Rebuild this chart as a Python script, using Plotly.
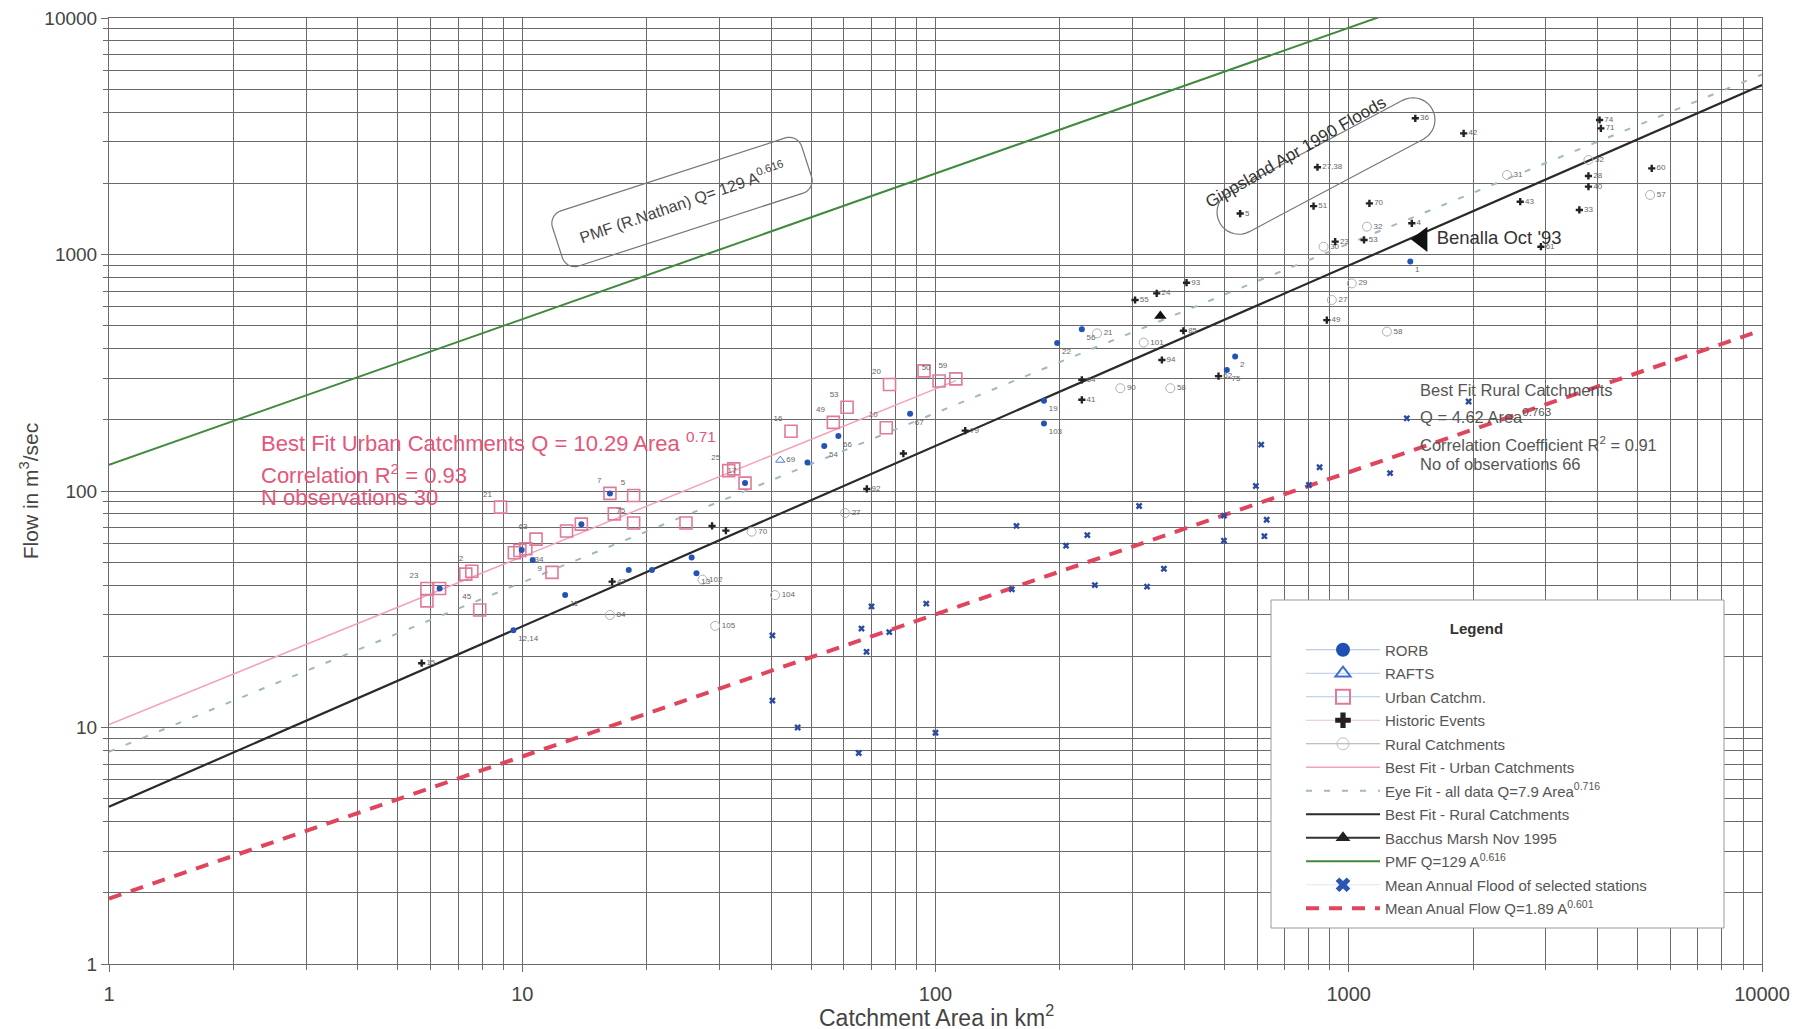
import numpy as np
import plotly.graph_objects as go

# ---------------- data ----------------
axis_ticks = [1, 10, 100, 1000, 10000]
axis_ticktext = ["1", "10", "100", "1000", "10000"]

# Urban catchments (open pink squares)
urban_area = [5.88, 5.88, 6.31, 7.3, 7.55, 7.89, 8.86, 9.57, 9.87, 10.2, 10.8, 11.8, 12.8, 13.9, 16.3,
              16.7, 18.6, 18.6, 24.9, 31.6, 32.5, 34.6, 44.7, 56.6, 61.1, 76, 77.4, 93.8, 102, 112]
urban_flow = [38.7, 34.3, 38.7, 44.5, 45.8, 31.4, 85.5, 54.8, 56, 57, 62.6, 45.3, 67.7, 72.4, 97.7,
              80, 95.7, 73.2, 73.2, 122, 124, 108, 179, 195, 226, 185, 282, 322, 292, 298]
urban_label = ["23", "", "", "", "2", "45", "21", "", "", "", "63", "34", "", "", "7",
               "", "5", "75", "", "25", "", "17", "16", "49", "53", "10", "20", "", "50", "59"]

# RORB (blue dots)
rorb_area = [6.31, 9.52, 9.97, 10.6, 12.7, 13.9, 16.3, 18.1, 20.6, 25.7, 26.4, 34.6, 49, 53.8, 58.2,
             86.8, 183, 183, 197, 226, 507, 531, 1409]
rorb_flow = [38.7, 25.8, 56.3, 51.1, 36.3, 72.4, 97.7, 46.3, 46.3, 52.4, 44.9, 108, 132, 155, 171,
             212, 241, 193, 422, 483, 325, 370, 933]
rorb_label = ["", "12,14", "", "9", "11", "", "", "", "", "", "13", "", "", "54", "66",
              "67", "19", "103", "22", "56", "75", "2", "1"]

# RAFTS (open blue triangle)
rafts_area = [42.1]
rafts_flow = [135]
rafts_label = ["69"]

# Historic events (black crosses)
hist_area = [5.71, 16.5, 28.8, 31.1, 68.2, 83.6, 118, 226, 226, 304, 343, 353, 398, 405, 484, 885,
             840, 822, 1122, 1449, 1897, 4045, 4075, 3802, 3802, 3614, 5410, 2600, 2917, 927, 1089,
             1421, 546]
hist_flow = [18.7, 41.4, 71.2, 68, 102, 144, 180, 295, 243, 642, 685, 358, 476, 760, 306, 528,
             2338, 1602, 1645, 3767, 3251, 3704, 3415, 2148, 1936, 1543, 2312, 1672, 1079, 1133, 1152,
             1355, 1490]
hist_label = ["15", "47", "", "", "92", "", "79", "64", "41", "55", "24", "94", "85", "93", "62", "49",
              "27,38", "51", "70", "36", "42", "74", "71", "28", "40", "33", "60", "43", "61", "23", "53",
              "4", "5"]

# Rural catchments (open grey circles)
rural_area = [16.3, 27.3, 29.3, 35.9, 40.9, 60.4, 246, 280, 319, 370, 869, 910, 1017, 1107, 1237,
              2415, 3802, 5360]
rural_flow = [29.9, 42.2, 26.9, 67.3, 36.3, 80.7, 464, 272, 424, 272, 1079, 642, 755, 1312, 472,
              2169, 2510, 1786]
rural_label = ["84", "102", "105", "70", "104", "27", "21", "90", "101", "58", "30", "27", "29", "32", "58",
               "31", "52", "57"]

# Mean annual flood of selected stations (blue crosses)
maf_area = [40.3, 40.3, 46.4, 65.2, 66.2, 68.1, 70, 77.3, 95, 100, 153, 157, 207, 233, 243, 311, 325,
            357, 499, 499, 596, 614, 633, 625, 801, 850, 1259, 1382, 1950, 10570]
maf_flow = [24.5, 13, 10, 7.8, 26.2, 20.9, 32.5, 25.3, 33.4, 9.5, 38.4, 71.2, 58.7, 65.1, 40, 86.4, 39.4,
            46.9, 78.7, 61.7, 105, 157, 75.6, 64.4, 106, 126, 119, 203, 239, 442]

# Single events
bacchus_area = [350]
bacchus_flow = [550]
benalla_area = [1503]
benalla_flow = [1159]
benalla_text = ["Benalla Oct '93"]

# Fitted / envelope lines (end points)
line_area = [1, 10000]
pmf_flow = [129, 37550]
rural_fit_flow = [4.62, 5208]
eye_fit_flow = [7.9, 5775]
mean_flow_line = [1.89, 479]
urban_fit_area = [1, 112]
urban_fit_flow = [10.29, 293]

# ---------------- layout geometry ----------------
W, H = 1800, 1029
PAGE_OFF = 8                       # default body margin of the html page
X0, X1, Y0, Y1 = 109, 1762, 18, 964  # wanted plot area on screen
PW, PH = X1 - X0, Y1 - Y0
ML, MT = X0 - PAGE_OFF, Y0 - PAGE_OFF
MR, MB = W - ML - PW, H - MT - PH
FONT = "Arial, Liberation Sans, sans-serif"


def paper(px, py):
    return (px - X0) / PW, (Y1 - py) / PH


def rounded_rect_path(cx, cy, length, width, angle_deg, radius):
    a, b, r = length / 2, width / 2, radius
    pts = []
    corners = [((a - r), (b - r), 0), (-(a - r), (b - r), 90), (-(a - r), -(b - r), 180), ((a - r), -(b - r), 270)]
    for sx, ty, start in corners:
        for phi in np.linspace(start, start + 90, 10):
            pts.append((sx + r * np.cos(np.radians(phi)), ty + r * np.sin(np.radians(phi))))
    th = np.radians(angle_deg)
    u = np.array([np.cos(th), -np.sin(th)])
    v = np.array([np.sin(th), np.cos(th)])
    out = []
    for s, t in pts:
        p = np.array([cx, cy]) + s * u + t * v
        out.append(paper(p[0], p[1]))
    return "M " + " L ".join(f"{x:.5f},{y:.5f}" for x, y in out) + " Z"


fig = go.Figure()

# ---------------- lines ----------------
fig.add_trace(go.Scatter(x=line_area, y=pmf_flow, mode="lines", showlegend=False,
                         line=dict(color="#3f8a3f", width=2)))
fig.add_trace(go.Scatter(x=line_area, y=eye_fit_flow, mode="lines", showlegend=False,
                         line=dict(color="#9fb8c4", width=2, dash="6px,12px")))
fig.add_trace(go.Scatter(x=urban_fit_area, y=urban_fit_flow, mode="lines", showlegend=False,
                         line=dict(color="#f2a3b6", width=1.5)))
fig.add_trace(go.Scatter(x=line_area, y=rural_fit_flow, mode="lines", showlegend=False,
                         line=dict(color="#2a2a2a", width=2.2)))
fig.add_trace(go.Scatter(x=line_area, y=mean_flow_line, mode="lines", showlegend=False,
                         line=dict(color="#e0455e", width=4, dash="13px,10px")))

lab_font = dict(size=8, color="#666", family=FONT)

# ---------------- points ----------------
fig.add_trace(go.Scatter(x=rural_area, y=rural_flow, mode="markers+text", text=rural_label,
                         textposition="middle right", textfont=lab_font, showlegend=False,
                         marker=dict(symbol="circle-open", size=9, color="#b0b0b0", line=dict(width=1))))
fig.add_trace(go.Scatter(x=urban_area, y=urban_flow, mode="markers+text", text=urban_label,
                         textposition="top left", textfont=lab_font, showlegend=False,
                         marker=dict(symbol="square-open", size=12, color="#e07a98", line=dict(width=1.6))))
fig.add_trace(go.Scatter(x=rorb_area, y=rorb_flow, mode="markers+text", text=rorb_label,
                         textposition="bottom right", textfont=lab_font, showlegend=False,
                         marker=dict(symbol="circle", size=6, color="#2453b5")))
fig.add_trace(go.Scatter(x=rafts_area, y=rafts_flow, mode="markers+text", text=rafts_label,
                         textposition="middle right", textfont=lab_font, showlegend=False,
                         marker=dict(symbol="triangle-up-open", size=8, color="#4a78d0", line=dict(width=1))))
fig.add_trace(go.Scatter(x=hist_area, y=hist_flow, mode="markers+text", text=hist_label,
                         textposition="middle right", textfont=lab_font, showlegend=False,
                         marker=dict(symbol="cross", size=6, color="#222")))
fig.add_trace(go.Scatter(x=maf_area, y=maf_flow, mode="markers", showlegend=False, cliponaxis=False,
                         marker=dict(symbol="x", size=6, color="#2b4c9c")))
fig.add_trace(go.Scatter(x=bacchus_area, y=bacchus_flow, mode="markers", showlegend=False,
                         marker=dict(symbol="triangle-up", size=11, color="#111")))
fig.add_trace(go.Scatter(x=benalla_area, y=benalla_flow, mode="markers+text", text=benalla_text,
                         textposition="middle right", showlegend=False,
                         textfont=dict(size=18.5, color="#333", family=FONT),
                         marker=dict(symbol="triangle-left", size=22, color="#111")))

# ---------------- legend entries ----------------
legend_items = [
    ("RORB", dict(mode="lines+markers", marker=dict(symbol="circle", size=14, color="#1f4fb5"),
                  line=dict(color="#a9bde0", width=1))),
    ("RAFTS", dict(mode="lines+markers", marker=dict(symbol="triangle-up-open", size=13, color="#3b6fd4",
                                                      line=dict(width=2)),
                   line=dict(color="#b8c8e8", width=1))),
    ("Urban Catchm.", dict(mode="lines+markers", marker=dict(symbol="square-open", size=14, color="#e07a98",
                                                              line=dict(width=2)),
                           line=dict(color="#a9c8e8", width=1))),
    ("Historic Events", dict(mode="lines+markers", marker=dict(symbol="cross", size=13, color="#222"),
                             line=dict(color="#f0c0c8", width=1))),
    ("Rural Catchments", dict(mode="lines+markers", marker=dict(symbol="circle-open", size=12, color="#c0c0c0"),
                              line=dict(color="#aaa", width=1))),
    ("Best Fit - Urban Catchments", dict(mode="lines", line=dict(color="#f2a3b6", width=1.5))),
    ("Eye Fit - all data Q=7.9 Area<sup>0.716</sup>", dict(mode="lines", line=dict(color="#9fb8c4", width=2,
                                                                               dash="6px,12px"))),
    ("Best Fit - Rural Catchments", dict(mode="lines", line=dict(color="#2a2a2a", width=2))),
    ("Bacchus Marsh Nov 1995", dict(mode="lines+markers", marker=dict(symbol="triangle-up", size=13, color="#222"),
                                    line=dict(color="#333", width=2))),
    ("PMF Q=129 A<sup>0.616</sup>", dict(mode="lines", line=dict(color="#3f8a3f", width=2))),
    ("Mean Annual Flood of selected stations", dict(mode="lines+markers",
                                                    marker=dict(symbol="x", size=13, color="#2d55b5"),
                                                    line=dict(color="#dfe6f2", width=1))),
    ("Mean Anual Flow Q=1.89 A<sup>0.601</sup>", dict(mode="lines", line=dict(color="#e0455e", width=4,
                                                                          dash="13px,10px"))),
]
for i, (name, kw) in enumerate(legend_items):
    fig.add_trace(go.Scatter(x=[None], y=[None], name=name, legendgroup=f"g{i}", **kw))

# ---------------- shapes ----------------
lx0, ly0 = paper(1271, 600)
lx1, ly1 = paper(1724, 928)
shapes = [
    dict(type="path", xref="paper", yref="paper", path=rounded_rect_path(682, 202, 262, 58, 18, 13),
         line=dict(color="#777", width=1.2)),
    dict(type="path", xref="paper", yref="paper", path=rounded_rect_path(1326, 166, 241, 44, 28, 22),
         line=dict(color="#777", width=1.2)),
    dict(type="rect", xref="paper", yref="paper", x0=lx0, y0=ly0, x1=lx1, y1=ly1, layer="above",
         fillcolor="white", line=dict(color="#999", width=1)),
]

# ---------------- annotations ----------------
annotations = []
px, py = paper(682, 202)
annotations.append(dict(xref="paper", yref="paper", x=px, y=py, xanchor="center", yanchor="middle",
                        showarrow=False, textangle=-19,
                        text="PMF (R.Nathan) Q= 129 A<sup>0.616</sup>",
                        font=dict(size=16, color="#444", family=FONT)))
px, py = paper(1295, 152)
annotations.append(dict(xref="paper", yref="paper", x=px, y=py, xanchor="center", yanchor="middle",
                        showarrow=False, textangle=-30,
                        text="Gippsland Apr 1990 Floods", font=dict(size=17, color="#333", family=FONT)))
for txt, yy in [("Best Fit Urban Catchments Q = 10.29 Area <sup>0.71</sup>", 442),
                ("Correlation R<sup>2</sup> = 0.93", 474),
                ("N observations 30", 497)]:
    px, py = paper(259, yy)
    annotations.append(dict(xref="paper", yref="paper", x=px, y=py, xanchor="left", yanchor="middle",
                            showarrow=False, text=txt, font=dict(size=22, color="#e2577a", family=FONT)))
for txt, yy in [("Best Fit Rural Catchments", 390),
                ("Q = 4.62 Area<sup>0.763</sup>", 416),
                ("Correlation Coefficient R<sup>2</sup> = 0.91", 444),
                ("No of observations 66", 464)]:
    px, py = paper(1418, yy)
    annotations.append(dict(xref="paper", yref="paper", x=px, y=py, xanchor="left", yanchor="middle",
                            showarrow=False, text=txt, font=dict(size=16.5, color="#555", family=FONT)))
px, py = paper(936, 1016)
annotations.append(dict(xref="paper", yref="paper", x=px, y=py, xanchor="center", yanchor="middle",
                        showarrow=False, text="Catchment Area in km<sup>2</sup>",
                        font=dict(size=23, color="#444", family=FONT)))

grid = "#6a6a6a"
axis_common = dict(type="log", range=[0, 4], tickvals=axis_ticks, ticktext=axis_ticktext, automargin=False,
                   ticklabeloverflow="allow",
                   showgrid=True, gridcolor=grid, gridwidth=1, showline=True, linecolor=grid, mirror=True,
                   ticks="outside", ticklen=7, tickcolor=grid, zeroline=False,
                   minor=dict(dtick="D1", showgrid=True, gridcolor=grid, gridwidth=1,
                              ticks="outside", ticklen=5, tickcolor=grid))

lgx, lgy = paper(1301, 614)
fig.update_layout(
    width=W, height=H, margin=dict(l=ML, r=MR, t=MT, b=MB),
    paper_bgcolor="white", plot_bgcolor="white",
    font=dict(family=FONT, color="#444"),
    xaxis=dict(**axis_common, tickfont=dict(size=20, color="#444"), ticklabelstandoff=5),
    yaxis=dict(**axis_common, tickfont=dict(size=19, color="#444"), ticklabelstandoff=0,
               title=dict(text="Flow in m<sup>3</sup>/sec", font=dict(size=21, color="#444"), standoff=0)),
    shapes=shapes, annotations=annotations,
    legend=dict(x=lgx, y=lgy, xanchor="left", yanchor="top",
                bgcolor="rgba(0,0,0,0)", borderwidth=0, itemwidth=74, tracegroupgap=1,
                traceorder="grouped", font=dict(size=15, color="#555", family=FONT),
                title=dict(text="<b>Legend</b>", side="top center", font=dict(size=15, color="#333"))),
)

fig.write_html("out.html")
